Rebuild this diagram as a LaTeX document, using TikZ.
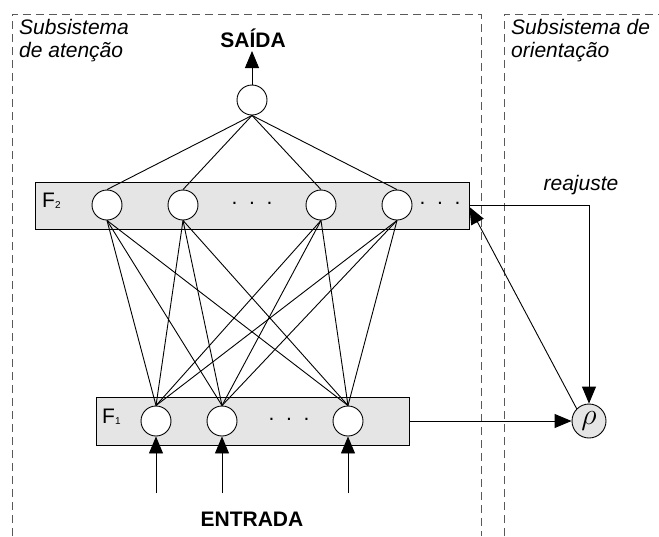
\documentclass[tikz,border=0pt]{standalone}
\usepackage{fontspec}
\setmainfont{Liberation Sans}
\usetikzlibrary{arrows.meta}
\begin{document}
\begin{tikzpicture}[x=1pt,y=-1pt,
  every node/.style={font=\fontsize{21}{24}\selectfont},
  neuron/.style={circle,draw,fill=white,minimum size=30pt,inner sep=0pt,line width=0.9pt},
  layer/.style={draw,fill=black!10,inner sep=0pt,line width=1pt},
  sub/.style={dash pattern=on 8pt off 5pt,draw=black!65,line width=1pt},
  conn/.style={line width=0.9pt},
  tip/.style={-{Triangle[length=17pt,width=14pt]}},
  lbl/.style={align=left,anchor=north west,inner sep=0pt,font=\fontsize{21}{23}\selectfont\itshape}]
\useasboundingbox (0,0) rectangle (659,536);
% subsystems
\draw[sub] (12,536) -- (12,14) -- (481,14) -- (481,536);
\draw[sub] (504,536) -- (504,14) -- (659,14);
\node[lbl] (t1) at (19,19) {Subsistema\\de atenção};
\node[lbl] (t2) at (511,19) {Subsistema de\\orientação};
% layers
\node[layer,minimum width=434pt,minimum height=47pt] (F2) at (252,205.5) {};
\node[layer,minimum width=313pt,minimum height=48pt] (F1) at (252.5,421) {};
\node[anchor=west,inner sep=0pt] (F2l) at (42,201) {F\raisebox{-1pt}{\fontsize{10}{10}\selectfont 2}};
\node[anchor=west,inner sep=0pt] (F1l) at (102,417) {F\raisebox{-1pt}{\fontsize{10}{10}\selectfont 1}};
% neurons
\node[neuron] (o) at (252,100) {};
\node[neuron] (a1) at (107,205) {};
\node[neuron] (a2) at (183,205) {};
\node[neuron] (a3) at (321,205) {};
\node[neuron] (a4) at (397,205) {};
\node[neuron] (b1) at (156,421) {};
\node[neuron] (b2) at (222,421) {};
\node[neuron] (b3) at (348,421) {};
\node (d1) at (252,203) {.\ \ .\ \ .};
\node (d2) at (440,203) {.\ \ .\ \ .};
\node (d3) at (289,419) {.\ \ .\ \ .};
\node[circle,draw,fill=black!10,minimum size=34pt,inner sep=0pt,line width=0.9pt] (rho) at (589,421) {\raisebox{2pt}{\scalebox{1.45}{$\rho$}}};
% connections
\foreach \a in {a1,a2,a3,a4}{
  \draw[conn] (o.south) -- (\a.north);
  \foreach \b in {b1,b2,b3}{ \draw[conn] (\a.south) -- (\b.north); }
}
% output
\node[font=\fontsize{21}{24}\selectfont\bfseries] (out) at (253,38) {SAÍDA};
\coordinate (otip) at (252,51);
\draw[conn,tip] (o.north) -- (otip);
% inputs
\node[font=\fontsize{21}{24}\selectfont\bfseries] (in) at (252,519) {ENTRADA};
\foreach \b in {b1,b2,b3}{
  \coordinate (\b in) at ([yshift=-57pt]\b.south);
  \draw[conn,tip] (\b in) -- (\b.south);
}
% orienting subsystem
\draw[conn,tip] (F1.east) -- (rho.west);
\coordinate (rc) at (589,205);
\draw[conn,tip] (F2.east |- rc) -- (rc) -- (rho.north);
\node[font=\fontsize{21}{24}\selectfont\itshape] (re) at (581,185) {reajuste};
\coordinate (ftip) at (469.5,207);
\draw[conn,tip] (rho.north west) -- (ftip);
\end{tikzpicture}
\end{document}
